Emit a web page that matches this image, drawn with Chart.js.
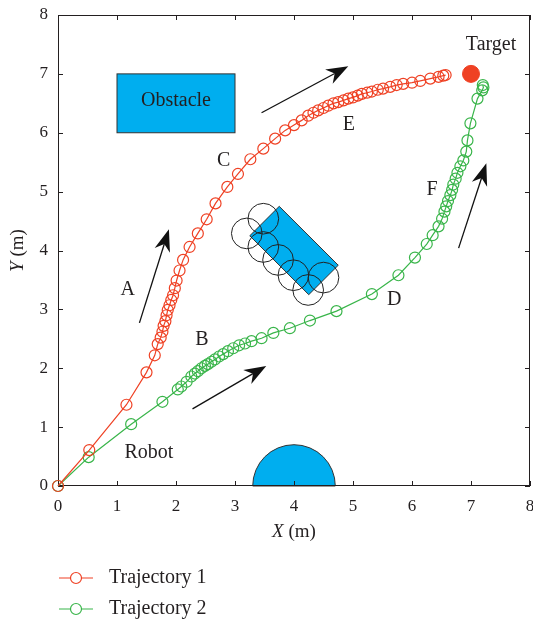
<!DOCTYPE html>
<html>
<head>
<meta charset="utf-8">
<script src="https://cdn.jsdelivr.net/npm/chart.js@4.4.0/dist/chart.umd.min.js"></script>
<style>
  html, body { margin: 0; padding: 0; background: #fff; }
</style>
</head>
<body>
<canvas id="traj" width="533" height="625"></canvas>
<script>
// trajectories (m)
const traj1X = [0, 0.53, 1.16, 1.50, 1.64, 1.69, 1.74, 1.77, 1.79, 1.82, 1.84, 1.86, 1.89, 1.92, 1.95, 1.98, 2.01, 2.06, 2.12, 2.23, 2.37, 2.52, 2.67, 2.87, 3.05, 3.26, 3.48, 3.68, 3.85, 4.00, 4.13, 4.24, 4.33, 4.41, 4.50, 4.58, 4.67, 4.75, 4.84, 4.92, 5.00, 5.08, 5.15, 5.24, 5.32, 5.42, 5.51, 5.63, 5.74, 5.85, 6.00, 6.14, 6.31, 6.45, 6.53, 6.57]
const traj1Y = [0, 0.61, 1.38, 1.93, 2.22, 2.41, 2.52, 2.62, 2.72, 2.80, 2.90, 2.99, 3.07, 3.16, 3.24, 3.36, 3.49, 3.66, 3.84, 4.06, 4.29, 4.53, 4.80, 5.08, 5.30, 5.55, 5.73, 5.90, 6.04, 6.13, 6.21, 6.29, 6.34, 6.38, 6.42, 6.46, 6.50, 6.52, 6.55, 6.58, 6.60, 6.63, 6.66, 6.68, 6.70, 6.73, 6.75, 6.78, 6.81, 6.83, 6.85, 6.88, 6.92, 6.95, 6.97, 6.98]
const traj2X = [0, 0.52, 1.24, 1.77, 2.03, 2.09, 2.18, 2.26, 2.32, 2.37, 2.43, 2.49, 2.54, 2.60, 2.66, 2.73, 2.80, 2.88, 2.97, 3.07, 3.17, 3.28, 3.45, 3.65, 3.93, 4.27, 4.72, 5.32, 5.77, 6.05, 6.25, 6.35, 6.45, 6.51, 6.55, 6.58, 6.61, 6.65, 6.68, 6.70, 6.74, 6.77, 6.82, 6.87, 6.92, 6.94, 6.99, 7.11, 7.19, 7.21, 7.20]
const traj2Y = [0, 0.49, 1.05, 1.43, 1.64, 1.69, 1.77, 1.86, 1.91, 1.95, 2.00, 2.04, 2.07, 2.11, 2.15, 2.20, 2.24, 2.29, 2.34, 2.39, 2.42, 2.46, 2.51, 2.60, 2.68, 2.81, 2.97, 3.26, 3.58, 3.88, 4.11, 4.26, 4.41, 4.54, 4.66, 4.75, 4.84, 4.94, 5.03, 5.12, 5.22, 5.32, 5.43, 5.53, 5.68, 5.87, 6.16, 6.58, 6.72, 6.77, 6.81]
const target = [7, 7]

const xTicks = [0, 1, 2, 3, 4, 5, 6, 7, 8]
const yTicks = [0, 1, 2, 3, 4, 5, 6, 7, 8]

// obstacles
const boxObstacle = [1, 3, 6, 7]            // xmin, xmax, ymin, ymax
const tiltedObstacleX = [3.75, 3.25, 4.25, 4.75]
const tiltedObstacleY = [4.75, 4.25, 3.25, 3.75]
const domeObstacle = [4, 0, 0.7]             // cx, cy, r
const footprintX = [3.48, 3.20, 3.48, 3.73, 3.99, 4.24, 4.50]
const footprintY = [4.54, 4.29, 4.06, 3.84, 3.58, 3.33, 3.54]
const footprintR = 0.26

// direction arrows: tail -> tip
const arrowTailX = [1.38, 3.45, 2.28, 6.79]
const arrowTailY = [2.77, 6.34, 1.31, 4.04]
const arrowTipX = [1.88, 4.92, 3.53, 7.26]
const arrowTipY = [4.36, 7.13, 2.04, 5.48]

const noteText = ['A', 'B', 'C', 'D', 'E', 'F', 'Robot', 'Target', 'Obstacle']
const noteX = [1.18, 2.44, 2.81, 5.70, 4.93, 6.34, 1.54, 7.34, 2.0]
const noteY = [3.33, 2.48, 5.53, 3.17, 6.13, 5.03, 0.56, 7.49, 6.54]

const red = 'rgb(239,65,36)'
const green = 'rgb(57,181,74)'
const cyan = 'rgb(0,174,239)'
const ink = '#231f20'
const serif = '"Liberation Serif", "DejaVu Serif", serif'

function pts(xs, ys) { return xs.map((x, i) => ({ x: x, y: ys[i] })) }

const sceneBehind = {
    id: 'sceneBehind',
    beforeDatasetsDraw(chart) {
        const c = chart.ctx, xs = chart.scales.x, ys = chart.scales.y
        const a = chart.chartArea
        c.save()
        c.lineWidth = 1
        c.strokeStyle = '#333'
        c.fillStyle = cyan
        // box obstacle
        const bx = xs.getPixelForValue(boxObstacle[0]), bx2 = xs.getPixelForValue(boxObstacle[1])
        const by = ys.getPixelForValue(boxObstacle[3]), by2 = ys.getPixelForValue(boxObstacle[2])
        c.fillRect(bx, by, bx2 - bx, by2 - by)
        c.strokeRect(bx, by, bx2 - bx, by2 - by)
        // dome
        const dx = xs.getPixelForValue(domeObstacle[0]), dy = ys.getPixelForValue(domeObstacle[1])
        const dr = xs.getPixelForValue(domeObstacle[2]) - xs.getPixelForValue(0)
        c.beginPath()
        c.arc(dx, dy, dr, Math.PI, 2 * Math.PI)
        c.closePath()
        c.fill(); c.stroke()
        // tilted block
        c.beginPath()
        tiltedObstacleX.forEach((x, i) => {
            const px = xs.getPixelForValue(x), py = ys.getPixelForValue(tiltedObstacleY[i])
            if (i === 0) c.moveTo(px, py); else c.lineTo(px, py)
        })
        c.closePath()
        c.fill(); c.stroke()
        // robot footprints
        c.strokeStyle = '#222'
        const fr = xs.getPixelForValue(footprintR) - xs.getPixelForValue(0)
        footprintX.forEach((x, i) => {
            c.beginPath()
            c.arc(xs.getPixelForValue(x), ys.getPixelForValue(footprintY[i]), fr, 0, 2 * Math.PI)
            c.stroke()
        })
        // frame + inward ticks
        c.strokeStyle = ink
        c.lineWidth = 1
        c.strokeRect(a.left + 0.5, a.top + 0.5, a.right - a.left - 1, a.bottom - a.top - 1)
        c.beginPath()
        xTicks.forEach(v => {
            const px = Math.round(xs.getPixelForValue(v)) + 0.5
            c.moveTo(px, a.bottom); c.lineTo(px, a.bottom - 5)
            c.moveTo(px, a.top); c.lineTo(px, a.top + 5)
        })
        yTicks.forEach(v => {
            const py = Math.round(ys.getPixelForValue(v)) + 0.5
            c.moveTo(a.left, py); c.lineTo(a.left + 5, py)
            c.moveTo(a.right, py); c.lineTo(a.right - 5, py)
        })
        c.stroke()
        c.restore()
    }
}

function arrow(c, x1, y1, x2, y2) {
    const L = 22, W = 8
    const len = Math.hypot(x2 - x1, y2 - y1)
    const ux = (x2 - x1) / len, uy = (y2 - y1) / len
    const nx = -uy, ny = ux
    c.beginPath()
    c.moveTo(x1, y1)
    c.lineTo(x2 - ux * L * 0.7, y2 - uy * L * 0.7)
    c.stroke()
    c.beginPath()
    c.moveTo(x2, y2)
    c.lineTo(x2 - ux * L + nx * W, y2 - uy * L + ny * W)
    c.lineTo(x2 - ux * L * 0.7, y2 - uy * L * 0.7)
    c.lineTo(x2 - ux * L - nx * W, y2 - uy * L - ny * W)
    c.closePath()
    c.fill()
}

function mixedTitle(c, x, y, italicPart, rest, size) {
    c.font = 'italic ' + size + 'px ' + serif
    const w1 = c.measureText(italicPart).width
    c.font = size + 'px ' + serif
    const w2 = c.measureText(rest).width
    const start = x - (w1 + w2) / 2
    c.textAlign = 'left'
    c.textBaseline = 'middle'
    c.font = 'italic ' + size + 'px ' + serif
    c.fillText(italicPart, start, y)
    c.font = size + 'px ' + serif
    c.fillText(rest, start + w1, y)
}

const sceneFront = {
    id: 'sceneFront',
    afterDatasetsDraw(chart) {
        const c = chart.ctx, xs = chart.scales.x, ys = chart.scales.y
        const a = chart.chartArea
        c.save()
        c.strokeStyle = '#111'
        c.fillStyle = '#111'
        c.lineWidth = 1.3
        arrowTailX.forEach((x, i) => {
            arrow(c, xs.getPixelForValue(x), ys.getPixelForValue(arrowTailY[i]),
                  xs.getPixelForValue(arrowTipX[i]), ys.getPixelForValue(arrowTipY[i]))
        })
        // notes
        c.fillStyle = ink
        c.font = '20px ' + serif
        c.textAlign = 'center'
        c.textBaseline = 'middle'
        noteText.forEach((t, i) => {
            c.fillText(t, xs.getPixelForValue(noteX[i]), ys.getPixelForValue(noteY[i]))
        })
        // axis titles
        mixedTitle(c, (a.left + a.right) / 2, 532, 'X', ' (m)', 19)
        c.save()
        c.translate(18, (a.top + a.bottom) / 2)
        c.rotate(-Math.PI / 2)
        mixedTitle(c, 0, 0, 'Y', ' (m)', 19)
        c.restore()
        // legend
        const rows = [[chart.data.datasets[0], 578], [chart.data.datasets[1], 609]]
        rows.forEach(([ds, y]) => {
            c.strokeStyle = ds.borderColor
            c.lineWidth = 1.2
            c.beginPath()
            c.moveTo(59, y); c.lineTo(93, y)
            c.stroke()
            c.beginPath()
            c.arc(76, y, 5.5, 0, 2 * Math.PI)
            c.fillStyle = '#fff'
            c.fill()
            c.stroke()
            c.fillStyle = ink
            c.font = '20px ' + serif
            c.textAlign = 'left'
            c.textBaseline = 'middle'
            c.fillText(ds.label, 109, y)
        })
        c.restore()
    }
}

const tickFont = { family: serif, size: 17 }

new Chart(document.getElementById('traj'), {
    type: 'scatter',
    data: {
        datasets: [
            {
                label: 'Trajectory 1', data: pts(traj1X, traj1Y), showLine: true,
                borderColor: red, borderWidth: 1.2, pointRadius: 5.5, pointBorderWidth: 1.2,
                pointBackgroundColor: 'rgba(0,0,0,0)', pointBorderColor: red, clip: false
            },
            {
                label: 'Trajectory 2', data: pts(traj2X, traj2Y), showLine: true,
                borderColor: green, borderWidth: 1.2, pointRadius: 5.5, pointBorderWidth: 1.2,
                pointBackgroundColor: 'rgba(0,0,0,0)', pointBorderColor: green, clip: false
            },
            {
                label: 'Target', data: [{ x: target[0], y: target[1] }],
                pointRadius: 8.5, pointBackgroundColor: red, pointBorderColor: red, clip: false
            }
        ]
    },
    options: {
        responsive: false,
        animation: false,
        events: [],
        layout: { autoPadding: false, padding: { top: 15, right: 3, left: 0, bottom: 0 } },
        plugins: { legend: { display: false }, tooltip: { enabled: false } },
        scales: {
            x: {
                type: 'linear', min: 0, max: 8,
                afterBuildTicks: s => { s.ticks = xTicks.map(v => ({ value: v })) },
                afterFit: s => { s.height = 139; s.paddingLeft = 0; s.paddingRight = 0 },
                grid: { display: false, drawTicks: false },
                border: { display: false },
                ticks: { font: tickFont, color: ink, padding: 10, maxRotation: 0 }
            },
            y: {
                type: 'linear', min: 0, max: 8,
                afterBuildTicks: s => { s.ticks = yTicks.map(v => ({ value: v })) },
                afterFit: s => { s.width = 58; s.paddingTop = 0; s.paddingBottom = 0 },
                grid: { display: false, drawTicks: false },
                border: { display: false },
                ticks: { font: tickFont, color: ink, padding: 10 }
            }
        }
    },
    plugins: [sceneBehind, sceneFront]
})
</script>
</body>
</html>
